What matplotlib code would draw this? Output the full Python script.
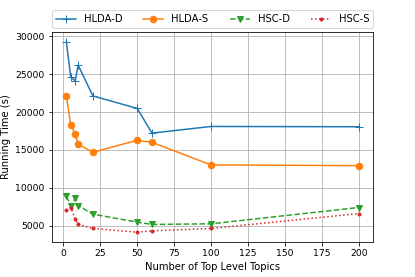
import matplotlib
matplotlib.use('Agg')
import matplotlib.pyplot as plt

topics = [2, 5, 8, 10, 20, 50, 60, 100, 200]
hlda_d = [29260, 24640, 24100, 26190, 22130, 20480, 17220, 18100, 18060]
hlda_s = [22130, 18300, 17100, 15740, 14690, 16270, 16000, 13020, 12930]
hsc_d = [8890, 7650, 8590, 7660, 6520, 5470, 5160, 5250, 7400]
hsc_s = [7040, 7400, 5910, 5160, 4630, 4140, 4320, 4630, 6600]


def main():
    fig = plt.figure(figsize=(415 / 72, 277 / 72), dpi=72)
    ax = fig.add_axes([0.1246, 0.1274, 0.775, 0.7556])
    ax.plot(topics, hlda_d, marker='+', markersize=8, label='HLDA-D')
    ax.plot(topics, hlda_s, marker='o', markersize=6.5, label='HLDA-S')
    ax.plot(topics, hsc_d, marker='v', markersize=6.5, linestyle='--', label='HSC-D')
    ax.plot(topics, hsc_s, marker='.', linestyle=':', label='HSC-S')
    ax.grid(True)
    ax.tick_params(labelsize=9.3)
    ax.set_xlabel('Number of Top Level Topics')
    ax.set_ylabel('Running Time (s)')
    ax.legend(bbox_to_anchor=(0, 1.02, 1, 0.102), loc='lower left', ncol=4,
              mode='expand', borderaxespad=0.)
    fig.savefig('out.png', dpi=72)


if __name__ == '__main__':
    main()
